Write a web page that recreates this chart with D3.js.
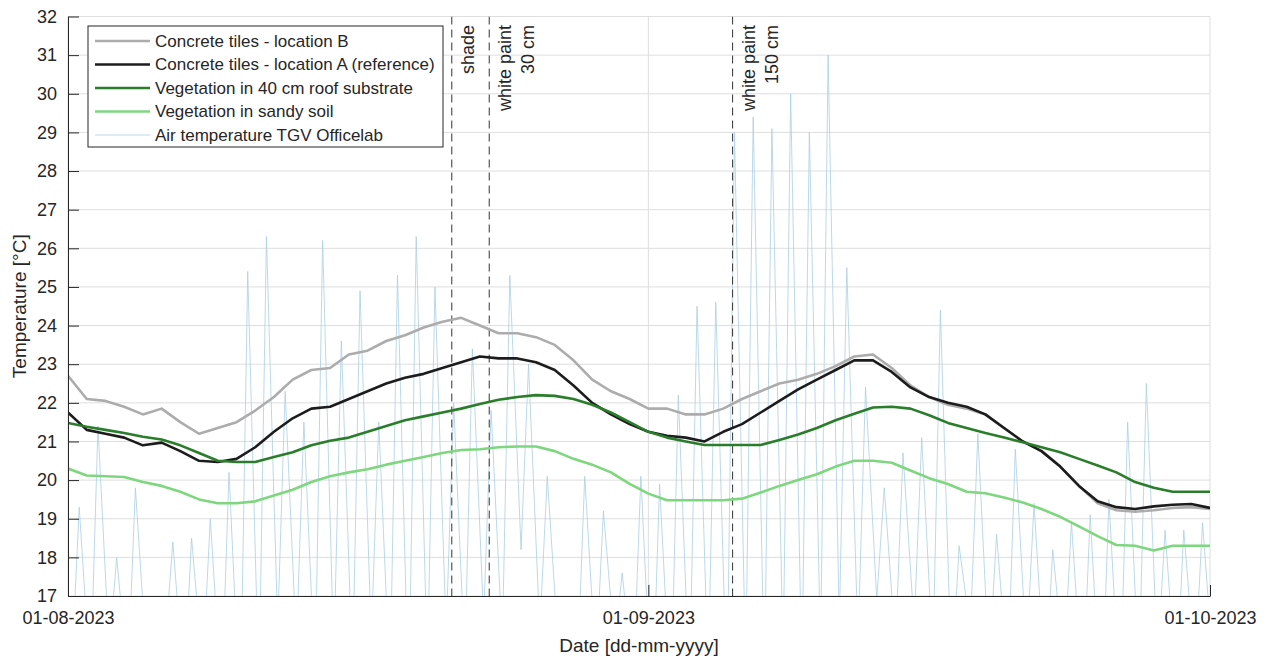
<!DOCTYPE html>
<html>
<head>
<meta charset="utf-8">
<script src="https://cdn.jsdelivr.net/npm/d3@7"></script>
<style>
  body { margin: 0; background: #fff; }
  text { font-family: "Liberation Sans", Arial, sans-serif; fill: #262626; }
</style>
</head>
<body>
<svg id="chart" width="1271" height="657"></svg>
<script>
// daily values, first value = 01-08-2023 00:00
const startDate = Date.UTC(2023, 7, 1);
const endDate = Date.UTC(2023, 9, 1);

const concreteB = [22.7, 22.1, 22.05, 21.9, 21.7, 21.85, 21.5, 21.2, 21.35, 21.5,
  21.8, 22.15, 22.6, 22.85, 22.9, 23.25, 23.35, 23.6, 23.75, 23.95,
  24.1, 24.2, 24.0, 23.8, 23.8, 23.7, 23.5, 23.1, 22.6, 22.3,
  22.1, 21.85, 21.85, 21.7, 21.7, 21.85, 22.1, 22.3, 22.5, 22.6,
  22.75, 22.95, 23.2, 23.25, 22.9, 22.45, 22.15, 21.95, 21.85, 21.7,
  21.35, 21.0, 20.75, 20.35, 19.85, 19.4, 19.22, 19.18, 19.22, 19.28,
  19.3, 19.25];

const concreteA = [21.75, 21.3, 21.2, 21.1, 20.9, 20.97, 20.75, 20.5, 20.47, 20.55,
  20.85, 21.25, 21.6, 21.85, 21.9, 22.1, 22.3, 22.5, 22.65, 22.75,
  22.9, 23.05, 23.2, 23.15, 23.15, 23.05, 22.85, 22.45, 22.0, 21.7,
  21.45, 21.25, 21.15, 21.1, 21.0, 21.25, 21.45, 21.75, 22.05, 22.35,
  22.6, 22.85, 23.1, 23.1, 22.8, 22.4, 22.15, 22.0, 21.9, 21.7,
  21.35, 21.0, 20.75, 20.35, 19.85, 19.45, 19.3, 19.25, 19.32, 19.36,
  19.38, 19.28];

const vegRoof = [21.48, 21.38, 21.3, 21.22, 21.12, 21.05, 20.9, 20.7, 20.5, 20.47,
  20.47, 20.6, 20.72, 20.9, 21.02, 21.1, 21.25, 21.4, 21.55, 21.65,
  21.75, 21.85, 21.97, 22.08, 22.15, 22.2, 22.18, 22.1, 21.95, 21.75,
  21.5, 21.25, 21.1, 21.0, 20.91, 20.91, 20.91, 20.91, 21.04, 21.18,
  21.35, 21.55, 21.72, 21.88, 21.9, 21.85, 21.68, 21.48, 21.35, 21.22,
  21.1, 20.98, 20.85, 20.72, 20.55, 20.38, 20.2, 19.95, 19.8, 19.7,
  19.7, 19.7];

const vegSandy = [20.3, 20.12, 20.1, 20.08, 19.95, 19.85, 19.7, 19.5, 19.4, 19.4,
  19.45, 19.6, 19.75, 19.95, 20.1, 20.2, 20.28, 20.4, 20.5, 20.6,
  20.7, 20.78, 20.8, 20.85, 20.87, 20.87, 20.75, 20.55, 20.4, 20.2,
  19.9, 19.65, 19.48, 19.48, 19.48, 19.48, 19.52, 19.68, 19.85, 20.0,
  20.15, 20.35, 20.5, 20.5, 20.45, 20.25, 20.05, 19.9, 19.7, 19.66,
  19.55, 19.42, 19.25, 19.05, 18.8, 18.55, 18.32, 18.3, 18.18, 18.3,
  18.3, 18.3];

// air temperature: early-morning low (~05:00) and afternoon peak (~14:00) per day
const airLow = [15.2, 14.8, 15.6, 14.9, 15.3, 15.8, 14.6, 15.1, 14.4, 13.9,
  14.6, 16.2, 15.7, 14.8, 15.4, 15.0, 15.9, 14.7, 14.2, 15.1,
  16.0, 15.3, 16.4, 15.8, 18.2, 16.1, 15.6, 14.9, 15.2, 15.7,
  14.8, 13.9, 14.2, 14.6, 14.9, 14.3, 15.1, 14.7, 15.4, 14.9,
  15.6, 16.3, 15.8, 16.9, 15.7, 16.2, 15.4, 14.8, 16.1, 15.2,
  14.9, 15.5, 14.6, 15.2, 14.4, 13.8, 14.2, 14.9, 15.3, 14.6,
  15.1, 15.0];
const airPeak = [19.3, 21.4, 18.0, 19.8, 16.8, 18.4, 18.5, 19.0, 20.2, 25.4,
  26.3, 22.3, 21.5, 26.2, 23.6, 24.9, 21.5, 25.3, 26.3, 25.0,
  22.0, 23.4, 21.8, 25.3, 23.0, 20.1, 16.8, 20.1, 19.2, 17.6,
  20.1, 19.9, 22.2, 24.5, 24.6, 29.0, 29.4, 29.1, 30.0, 29.0,
  31.0, 25.5, 22.4, 19.8, 20.7, 21.1, 24.4, 18.3, 21.2, 18.6,
  20.8, 19.4, 18.2, 18.9, 19.1, 19.5, 21.5, 22.5, 18.7, 18.7,
  18.9];

const seriesNames = ["Concrete tiles - location B", "Concrete tiles - location A (reference)",
  "Vegetation in 40 cm roof substrate", "Vegetation in sandy soil", "Air temperature TGV Officelab"];
const seriesColors = ["#acacac", "#1c1c1c", "#2a7d2a", "#7ed77e", "#a9cfe3"];

const events = [
  { date: Date.UTC(2023, 7, 21, 12), lines: ["shade"] },
  { date: Date.UTC(2023, 7, 23, 12), lines: ["white paint", "30 cm"] },
  { date: Date.UTC(2023, 8, 5, 12), lines: ["white paint", "150 cm"] }
];

const yTicks = d3.range(17, 33);
const xTicks = [new Date(startDate), new Date(Date.UTC(2023, 8, 1)), new Date(endDate)];

const DAY = 86400000;
var margin = { top: 16.5, right: 61, bottom: 61, left: 68 },
  width = 1271 - margin.left - margin.right,
  height = 657 - margin.top - margin.bottom;

var svg = d3.select("#chart");
var g = svg.append("g").attr("transform", "translate(" + margin.left + "," + margin.top + ")");

var x = d3.scaleUtc().domain([new Date(startDate), new Date(endDate)]).range([0, width]);
var y = d3.scaleLinear().domain([17, 32]).range([height, 0]);

// grid
g.append("g").selectAll("line").data(yTicks).join("line")
  .attr("x1", 0).attr("x2", width)
  .attr("y1", d => y(d)).attr("y2", d => y(d))
  .attr("stroke", "#dedede").attr("stroke-width", 1);
g.append("g").selectAll("line").data(xTicks).join("line")
  .attr("x1", d => x(d)).attr("x2", d => x(d))
  .attr("y1", 0).attr("y2", height)
  .attr("stroke", "#dedede").attr("stroke-width", 1);

g.append("clipPath").attr("id", "plotclip")
  .append("rect").attr("width", width).attr("height", height);

var plot = g.append("g").attr("clip-path", "url(#plotclip)");

// air temperature
var airPoints = [];
airLow.forEach((v, i) => {
  airPoints.push({ t: new Date(startDate + (i + 0.2) * DAY), v: v });
  if (i < airPeak.length) airPoints.push({ t: new Date(startDate + (i + 0.6) * DAY), v: airPeak[i] });
});

var line = d3.line().x(d => x(d.t)).y(d => y(d.v));

plot.append("path").datum(airPoints)
  .attr("fill", "none")
  .attr("stroke", seriesColors[4])
  .attr("stroke-width", 0.8)
  .attr("d", line);

// dashed event lines
events.forEach(function (ev) {
  plot.append("line")
    .attr("x1", x(new Date(ev.date))).attr("x2", x(new Date(ev.date)))
    .attr("y1", 0).attr("y2", height)
    .attr("stroke", "#333").attr("stroke-width", 1)
    .attr("stroke-dasharray", "8,5");
  ev.lines.forEach(function (txt, k) {
    var tx = x(new Date(ev.date)) + 22 + k * 23;
    g.append("text")
      .attr("transform", "translate(" + tx + "," + 8.5 + ") rotate(-90)")
      .attr("text-anchor", "end")
      .style("font-size", "18px")
      .text(txt);
  });
});

// temperature series
var series = [concreteB, concreteA, vegRoof, vegSandy];
series.forEach(function (vals, s) {
  var pts = vals.map((v, i) => ({ t: new Date(startDate + i * DAY), v: v }));
  plot.append("path").datum(pts)
    .attr("fill", "none")
    .attr("stroke", seriesColors[s])
    .attr("stroke-width", 2.6)
    .attr("stroke-linejoin", "round")
    .attr("d", line);
});

// axes
var yAxis = g.append("g")
  .call(d3.axisLeft(y).tickValues(yTicks).tickSizeInner(-11).tickSizeOuter(0).tickPadding(11));
var xAxis = g.append("g")
  .attr("transform", "translate(0," + height + ")")
  .call(d3.axisBottom(x).tickValues(xTicks).tickSizeInner(-11).tickSizeOuter(0)
    .tickPadding(15).tickFormat(d3.utcFormat("%d-%m-%Y")));
[yAxis, xAxis].forEach(function (ax) {
  ax.select(".domain").attr("stroke", "#262626");
  ax.selectAll(".tick line").attr("stroke", "#262626");
  ax.selectAll("text").style("font-size", "18px").attr("fill", "#262626")
    .style("font-family", "'Liberation Sans', Arial, sans-serif");
});

// axis titles
svg.append("text")
  .attr("transform", "translate(26," + (margin.top + height / 2) + ") rotate(-90)")
  .attr("text-anchor", "middle")
  .style("font-size", "19px")
  .text("Temperature [°C]");
svg.append("text")
  .attr("x", margin.left + width / 2)
  .attr("y", 652)
  .attr("text-anchor", "middle")
  .style("font-size", "19px")
  .text("Date [dd-mm-yyyy]");

// legend
var legend = svg.append("g").attr("transform", "translate(88,26)");
legend.append("rect")
  .attr("width", 355).attr("height", 121)
  .attr("fill", "#fff").attr("stroke", "#262626").attr("stroke-width", 1);
seriesNames.forEach(function (name, i) {
  var ly = 15 + i * 23.5;
  legend.append("line")
    .attr("x1", 7).attr("x2", 62).attr("y1", ly).attr("y2", ly)
    .attr("stroke", seriesColors[i])
    .attr("stroke-width", i < 4 ? 2.6 : 0.8);
  legend.append("text")
    .attr("x", 67).attr("y", ly).attr("dy", "0.35em")
    .style("font-size", "17px")
    .text(name);
});
</script>
</body>
</html>
